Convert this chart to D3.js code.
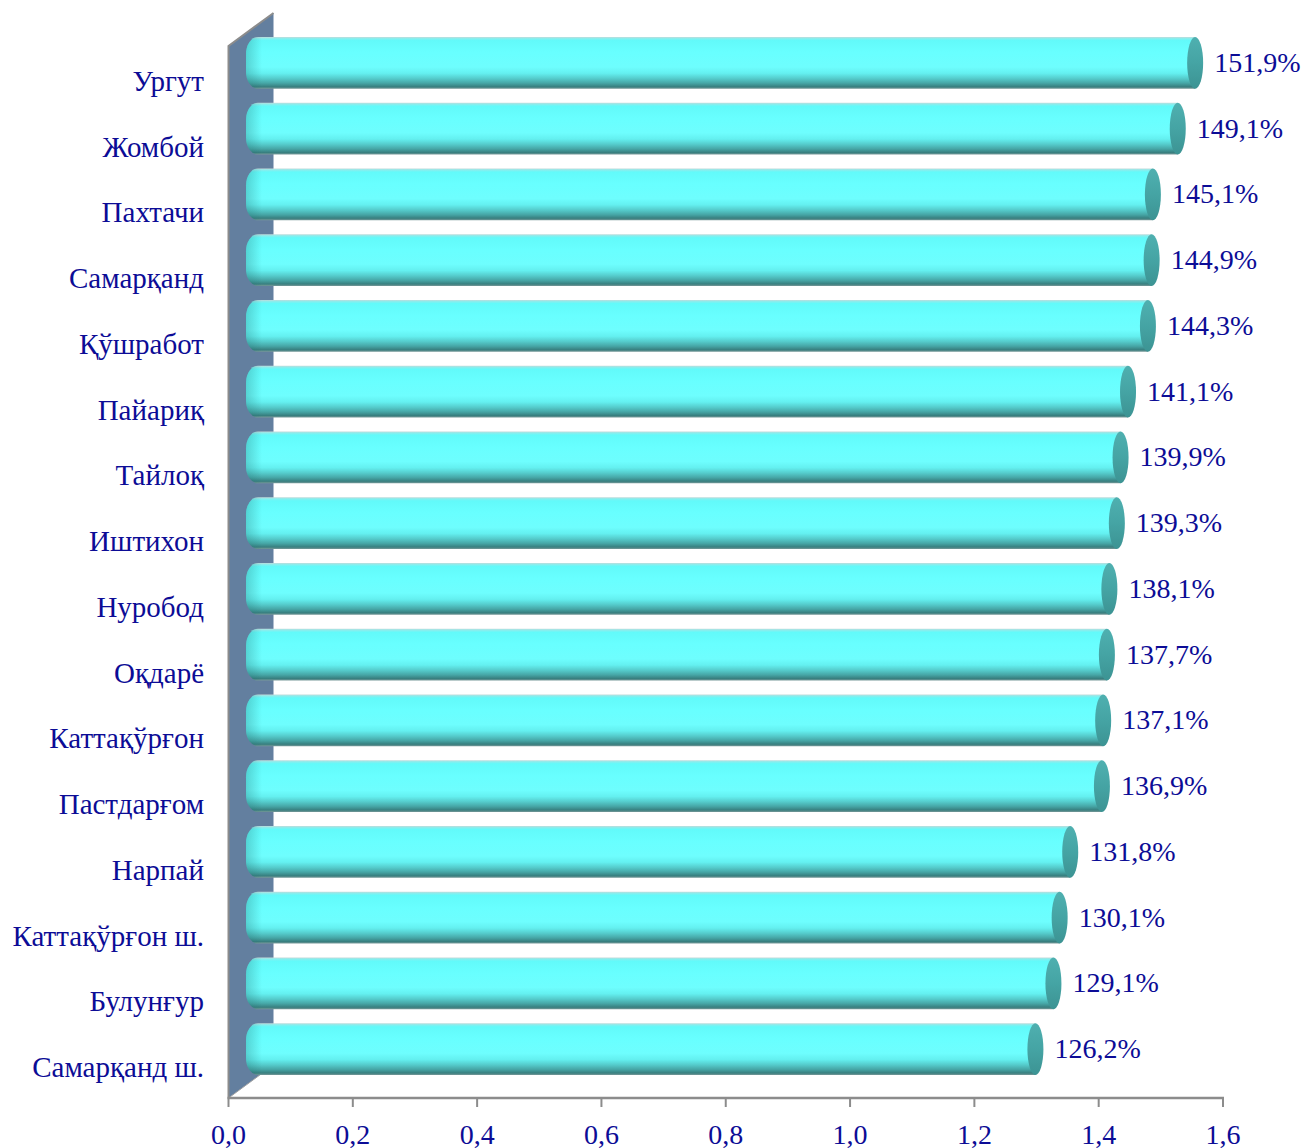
<!DOCTYPE html>
<html>
<head>
<meta charset="utf-8">
<script src="https://cdn.jsdelivr.net/npm/d3@7"></script>
<style>
  html, body { margin: 0; padding: 0; background: #ffffff; }
  svg { display: block; }
  text { font-family: "Liberation Serif", "Times New Roman", serif; }
</style>
</head>
<body>
<script>
// Districts, top to bottom
const districts = [
  "Ургут", "Жомбой", "Пахтачи", "Самарқанд", "Қўшработ", "Пайариқ",
  "Тайлоқ", "Иштихон", "Нуробод", "Оқдарё", "Каттақўрғон", "Пастдарғом",
  "Нарпай", "Каттақўрғон ш.", "Булунғур", "Самарқанд ш."
];
// Growth ratio for each district
const growth = [
  1.519, 1.491, 1.451, 1.449, 1.443, 1.411,
  1.399, 1.393, 1.381, 1.377, 1.371, 1.369,
  1.318, 1.301, 1.291, 1.262
];
// Value labels shown at the bar ends
const valueLabels = [
  "151,9%", "149,1%", "145,1%", "144,9%", "144,3%", "141,1%",
  "139,9%", "139,3%", "138,1%", "137,7%", "137,1%", "136,9%",
  "131,8%", "130,1%", "129,1%", "126,2%"
];
// Axis ticks
const tickValues = [0, 0.2, 0.4, 0.6, 0.8, 1.0, 1.2, 1.4, 1.6];
const tickLabels = ["0,0", "0,2", "0,4", "0,6", "0,8", "1,0", "1,2", "1,4", "1,6"];

(function () {
const W = 1306, H = 1148;
const textColor = "#0c0c96";

// Front plane of the 3D plot area
const pLeft = 228.5, pRight = 1223, pTop = 46, pBottom = 1098;
// Depth offset of the back wall
const depthX = 45, depthY = -33;

const svg = d3.select("body").append("svg")
  .attr("width", W).attr("height", H);

const x = d3.scaleLinear().domain([0, 1.6]).range([pLeft, pRight]);
const y = d3.scaleBand().domain(districts).range([pTop, pBottom])
  .paddingInner(0.21).paddingOuter(0.105);
const yOuter = d3.scaleBand().domain(districts).range([pTop, pBottom]);

const defs = svg.append("defs");

// Cylinder body shading, top to bottom
const body = defs.append("linearGradient")
  .attr("id", "cylBody").attr("x1", 0).attr("y1", 0).attr("x2", 0).attr("y2", 1);
[
  [0.00, "#c4dada"], [0.03, "#8cecec"], [0.07, "#62fafa"], [0.30, "#68ffff"],
  [0.58, "#6efefe"], [0.70, "#64f0f0"], [0.80, "#55cccc"], [0.89, "#46a6a6"],
  [0.96, "#387f7f"], [1.00, "#7a9a9a"]
].forEach(([o, c]) => body.append("stop").attr("offset", o).attr("stop-color", c));

// Shade at the rounded near end
const leftShade = defs.append("linearGradient")
  .attr("id", "cylLeft").attr("x1", 0).attr("y1", 0).attr("x2", 1).attr("y2", 0);
leftShade.append("stop").attr("offset", 0).attr("stop-color", "#1f6f6f").attr("stop-opacity", 0.3);
leftShade.append("stop").attr("offset", 1).attr("stop-color", "#1f6f6f").attr("stop-opacity", 0);

// Far end cap
const cap = defs.append("linearGradient")
  .attr("id", "cylCap").attr("x1", 0).attr("y1", 0).attr("x2", 0).attr("y2", 1);
[[0, "#4fb0b0"], [0.5, "#45a4a4"], [1, "#3c9393"]]
  .forEach(([o, c]) => cap.append("stop").attr("offset", o).attr("stop-color", c));

// Back wall
svg.append("path")
  .attr("d", `M${pLeft},${pTop} L${pLeft + depthX},${pTop + depthY} L${pLeft + depthX},${pBottom + depthY} L${pLeft},${pBottom} Z`)
  .attr("fill", "#637f9f");
svg.append("path")
  .attr("d", `M${pLeft},${pBottom} L${pLeft},${pTop} L${pLeft + depthX},${pTop + depthY}`)
  .attr("fill", "none").attr("stroke", "#8c8c8c").attr("stroke-width", 2);
svg.append("path")
  .attr("d", `M${pLeft},${pBottom} L${pLeft + depthX},${pBottom + depthY}`)
  .attr("fill", "none").attr("stroke", "#a0a0a0").attr("stroke-width", 1);

// Axis
const axisG = svg.append("g").attr("transform", `translate(0,${pBottom})`);
axisG.append("line")
  .attr("x1", pLeft - 1).attr("x2", pRight + 1).attr("y1", 0).attr("y2", 0)
  .attr("stroke", "#8c8c8c").attr("stroke-width", 2.5);
axisG.selectAll("line.tick").data(tickValues).join("line")
  .attr("class", "tick")
  .attr("x1", d => x(d)).attr("x2", d => x(d))
  .attr("y1", 0).attr("y2", 9)
  .attr("stroke", "#8c8c8c").attr("stroke-width", 2);
axisG.selectAll("text").data(tickValues).join("text")
  .attr("x", d => x(d)).attr("y", 46)
  .attr("text-anchor", "middle")
  .attr("font-size", 28).attr("fill", textColor)
  .text((d, i) => tickLabels[i]);

// Category labels
svg.append("g").selectAll("text").data(districts).join("text")
  .attr("x", 204)
  .attr("y", d => yOuter(d) + yOuter.bandwidth() / 2 + 12)
  .attr("text-anchor", "end")
  .attr("font-size", 29).attr("fill", textColor)
  .text(d => d);

// Cylinders, sitting halfway into the depth
const midX = depthX / 2, midY = depthY / 2 + 0.5;
const rows = districts.map((d, i) => ({ name: d, v: growth[i], label: valueLabels[i] }));
const bars = svg.append("g").selectAll("g").data(rows).join("g");

const capRx = 8;
const cornerRx = 12, cornerRy = 17;
function nearEnd(x0, y0, h, x1) {
  return `M${x0 + cornerRx},${y0} L${x1},${y0} L${x1},${y0 + h} L${x0 + cornerRx},${y0 + h}` +
    ` A${cornerRx},${cornerRy} 0 0 1 ${x0},${y0 + h - cornerRy}` +
    ` L${x0},${y0 + cornerRy} A${cornerRx},${cornerRy} 0 0 1 ${x0 + cornerRx},${y0} Z`;
}
bars.append("path")
  .attr("d", d => nearEnd(x(0) + midX - 5, y(d.name) + midY, y.bandwidth(), x(d.v) + midX))
  .attr("fill", "url(#cylBody)");
// darker rim on the near end
bars.append("path")
  .attr("d", d => nearEnd(x(0) + midX - 5, y(d.name) + midY, y.bandwidth(), x(0) + midX + 11))
  .attr("fill", "url(#cylLeft)");
bars.append("ellipse")
  .attr("cx", d => x(d.v) + midX)
  .attr("cy", d => y(d.name) + midY + y.bandwidth() / 2)
  .attr("rx", capRx)
  .attr("ry", y.bandwidth() / 2)
  .attr("fill", "url(#cylCap)");

// Value labels
bars.append("text")
  .attr("x", d => x(d.v) + midX + capRx + 11)
  .attr("y", d => y(d.name) + midY + y.bandwidth() / 2 + 9)
  .attr("font-size", 28).attr("fill", textColor)
  .text(d => d.label);
})();
</script>
</body>
</html>
